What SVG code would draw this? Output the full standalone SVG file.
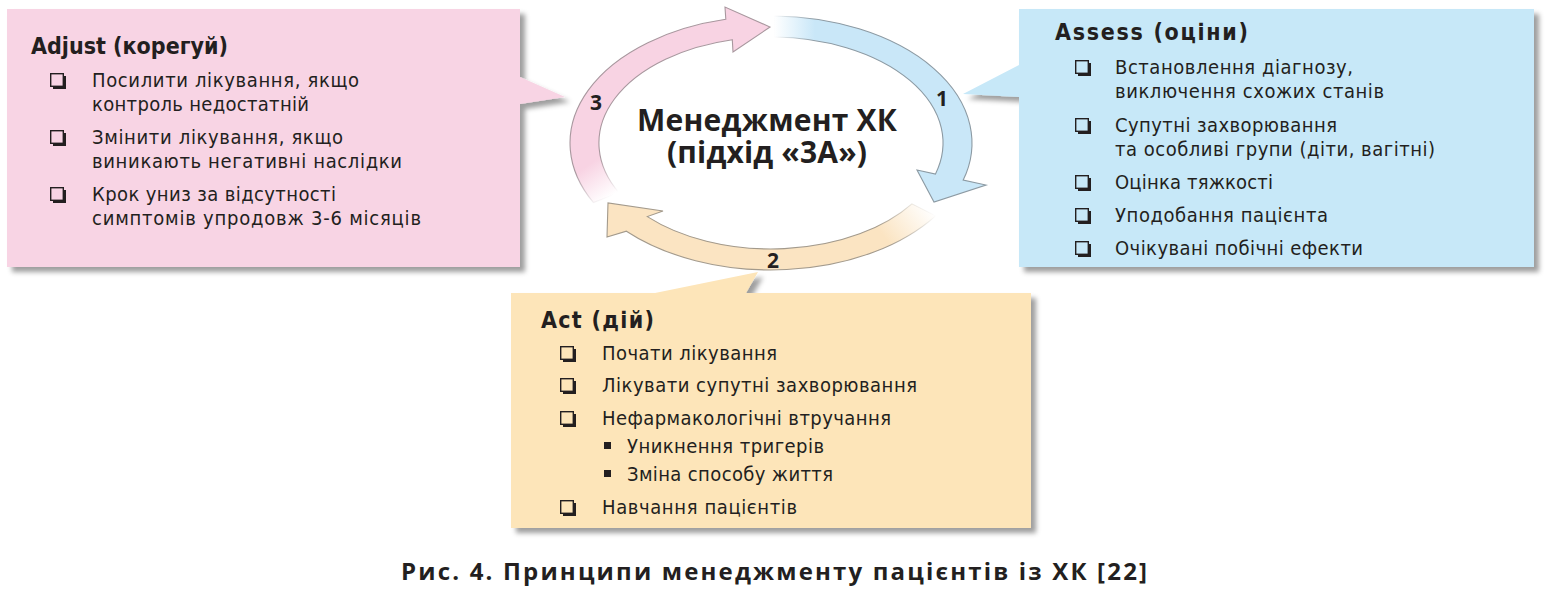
<svg xmlns="http://www.w3.org/2000/svg" width="1549" height="595" viewBox="0 0 1549 595">
<style>
.t{font-family:"DejaVu Sans Condensed","DejaVu Sans",sans-serif;font-stretch:condensed;font-size:20px;fill:#231f20}
.h{font-family:"DejaVu Sans Condensed","DejaVu Sans",sans-serif;font-stretch:condensed;font-weight:bold;font-size:23px;fill:#231f20}
.c{font-family:"Open Sans","Noto Sans",sans-serif;font-weight:bold;font-size:30px;fill:#231f20}
.n{font-family:"Open Sans","Noto Sans",sans-serif;font-weight:bold;font-size:21px;fill:#231f20;text-anchor:middle}
.cap{font-family:"Open Sans","Noto Sans",sans-serif;font-weight:bold;font-size:24px;fill:#231f20}
.box{filter:url(#sh)}
</style>
<defs>
<filter id="sh" x="-5%" y="-5%" width="115%" height="125%">
<feDropShadow dx="5" dy="5" stdDeviation="2.5" flood-color="#000" flood-opacity="0.38"/>
</filter>
<g id="cb">
<rect x="0.7" y="0.7" width="12.6" height="12.6" fill="none" stroke="#231f20" stroke-width="1.4"/>
<path d="M13.3 3 H16 V16 H3 V13.3 H13.3 Z" fill="#231f20"/>
</g>
<linearGradient id="gBlue" gradientUnits="userSpaceOnUse" x1="774" y1="0" x2="815" y2="0">
<stop offset="0" stop-color="#c9e7f8" stop-opacity="0"/><stop offset="1" stop-color="#c9e7f8"/>
</linearGradient>
<linearGradient id="sBlue" gradientUnits="userSpaceOnUse" x1="774" y1="0" x2="815" y2="0">
<stop offset="0" stop-color="#8c9aa3" stop-opacity="0"/><stop offset="1" stop-color="#8c9aa3"/>
</linearGradient>
<linearGradient id="gOr" gradientUnits="userSpaceOnUse" x1="928" y1="205" x2="885" y2="238">
<stop offset="0" stop-color="#fbe4c2" stop-opacity="0"/><stop offset="1" stop-color="#fbe4c2"/>
</linearGradient>
<linearGradient id="sOr" gradientUnits="userSpaceOnUse" x1="928" y1="205" x2="885" y2="238">
<stop offset="0" stop-color="#a39a8c" stop-opacity="0"/><stop offset="1" stop-color="#a39a8c"/>
</linearGradient>
<linearGradient id="gPk" gradientUnits="userSpaceOnUse" x1="606" y1="200" x2="584" y2="168">
<stop offset="0" stop-color="#f8d3e3" stop-opacity="0"/><stop offset="1" stop-color="#f8d3e3"/>
</linearGradient>
<linearGradient id="sPk" gradientUnits="userSpaceOnUse" x1="606" y1="200" x2="584" y2="168">
<stop offset="0" stop-color="#a8979e" stop-opacity="0"/><stop offset="1" stop-color="#a8979e"/>
</linearGradient>
</defs>
<rect width="1549" height="595" fill="#fff"/>

<g id="adjust">
<path class="box" d="M7 9 H520 V77 L565 97 L520 104 V267 H7 Z" fill="#f8d4e4"/>
<text class="h" x="31" y="54" textLength="197" lengthAdjust="spacing">Adjust (корегуй)</text>
<use href="#cb" x="50" y="73"/>
<text class="t" x="92" y="87" textLength="267" lengthAdjust="spacing">Посилити лікування, якщо</text>
<text class="t" x="92" y="111" textLength="217" lengthAdjust="spacing">контроль недостатній</text>
<use href="#cb" x="50" y="130"/>
<text class="t" x="92" y="144" textLength="251" lengthAdjust="spacing">Змінити лікування, якщо</text>
<text class="t" x="92" y="168" textLength="310" lengthAdjust="spacing">виникають негативні наслідки</text>
<use href="#cb" x="50" y="187"/>
<text class="t" x="92" y="201" textLength="244" lengthAdjust="spacing">Крок униз за відсутності</text>
<text class="t" x="92" y="225" textLength="329" lengthAdjust="spacing">симптомів упродовж 3-6 місяців</text>
</g>

<g id="assess">
<path class="box" d="M1019 9 H1534 V267 H1019 V97 L963 94 L1019 65 Z" fill="#c7e8f8"/>
<text class="h" x="1055" y="40" textLength="193" lengthAdjust="spacing">Assess (оціни)</text>
<use href="#cb" x="1075" y="60"/>
<text class="t" x="1115" y="74" textLength="238" lengthAdjust="spacing">Встановлення діагнозу,</text>
<text class="t" x="1115" y="98" textLength="269" lengthAdjust="spacing">виключення схожих станів</text>
<use href="#cb" x="1075" y="118"/>
<text class="t" x="1115" y="132" textLength="222" lengthAdjust="spacing">Супутні захворювання</text>
<text class="t" x="1115" y="156" textLength="320" lengthAdjust="spacing">та особливі групи (діти, вагітні)</text>
<use href="#cb" x="1075" y="175"/>
<text class="t" x="1115" y="189" textLength="158" lengthAdjust="spacing">Оцінка тяжкості</text>
<use href="#cb" x="1075" y="208"/>
<text class="t" x="1115" y="222" textLength="213" lengthAdjust="spacing">Уподобання пацієнта</text>
<use href="#cb" x="1075" y="241"/>
<text class="t" x="1115" y="255" textLength="248" lengthAdjust="spacing">Очікувані побічні ефекти</text>
</g>

<g id="act">
<path class="box" d="M511 293 H655 L758 272 L746 293 H1031 V528 H511 Z" fill="#fde5b9"/>
<text class="h" x="541" y="328" textLength="113" lengthAdjust="spacing">Act (дій)</text>
<use href="#cb" x="560" y="346"/>
<text class="t" x="602" y="360" textLength="175" lengthAdjust="spacing">Почати лікування</text>
<use href="#cb" x="560" y="378"/>
<text class="t" x="602" y="392" textLength="315" lengthAdjust="spacing">Лікувати супутні захворювання</text>
<use href="#cb" x="560" y="411"/>
<text class="t" x="602" y="425" textLength="289" lengthAdjust="spacing">Нефармакологічні втручання</text>
<rect x="604" y="442" width="7" height="7" fill="#231f20"/>
<text class="t" x="627" y="453" textLength="197" lengthAdjust="spacing">Уникнення тригерів</text>
<rect x="604" y="470" width="7" height="7" fill="#231f20"/>
<text class="t" x="627" y="481" textLength="206" lengthAdjust="spacing">Зміна способу життя</text>
<use href="#cb" x="560" y="500"/>
<text class="t" x="602" y="514" textLength="195" lengthAdjust="spacing">Навчання пацієнтів</text>
</g>

<g id="connectors" stroke-width="1.1" stroke-linejoin="miter">
<path id="arrow3" d="M593.5 202.6 A201 127 0 0 1 725.8 19.3 L725 7 L770 27 L733 52 L732.3 39.7 A172 106 0 0 0 619.1 192.8 Z" fill="url(#gPk)" stroke="url(#sPk)"/>
<path id="arrow2" d="M935.6 215.8 A201 127 0 0 1 626.4 231.2 L607 237 L608 203 L663 211 L647.3 216.6 A172 106 0 0 0 911.9 203.8 Z" fill="url(#gOr)" stroke="url(#sOr)"/>
<path id="arrow1" d="M774.5 16 A201 127 0 0 1 963.2 180.1 L986 185 L934 202 L917 170 L935.5 174 A172 106 0 0 0 774 37 Z" fill="url(#gBlue)" stroke="url(#sBlue)"/>
</g>

<g id="center">
<text class="c"><tspan x="637" y="131" textLength="260" lengthAdjust="spacing">Менеджмент ХК</tspan><tspan x="667" y="163" textLength="200" lengthAdjust="spacing">(підхід «3А»)</tspan></text>
</g>
<text class="n" x="942" y="106">1</text>
<text class="n" x="773" y="268">2</text>
<text class="n" x="596" y="110">3</text>

<text class="cap" x="401" y="580" textLength="746" lengthAdjust="spacing">Рис. 4. Принципи менеджменту пацієнтів із ХК [22]</text>
</svg>
